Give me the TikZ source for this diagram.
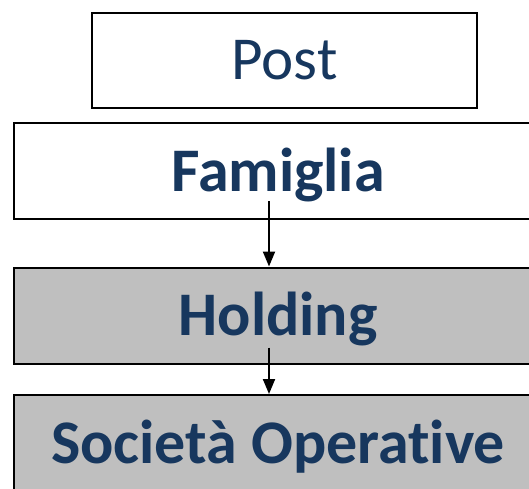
\documentclass[tikz,border=0pt]{standalone}
\usepackage{fontspec}
\setmainfont[Ligatures=NoCommon]{Carlito}
\usepackage{xcolor}
\definecolor{titleblue}{RGB}{23, 55, 94}
\definecolor{boxgray}{RGB}{191, 191, 191}
\usetikzlibrary{arrows.meta, positioning}

\begin{document}
\begin{tikzpicture}[x=1pt, y=-1pt, >={Triangle[width=12pt,length=15pt]}]
  \useasboundingbox (0,0) rectangle (529,488);
  \tikzset{
    level/.style={draw, line width=2pt, inner sep=0pt, text=titleblue,
      text height=40pt, text depth=0pt, minimum height=96pt},
    wide/.style={level, minimum width=528pt},
    flow/.style={->, line width=2pt}
  }
  % clip boxes at the right edge
  \begin{scope}
    \clip (0,0) rectangle (529,488);
    \node[level, fill=white, minimum width=385pt, minimum height=95pt,
      font=\fontsize{61}{70}\selectfont, text height=39pt] (post) at (284.5,60) {Post};
    \node[wide, fill=white, font=\fontsize{62}{72}\selectfont\bfseries] (fam) at (278,171) {Famiglia};
    \node[wide, fill=boxgray, font=\fontsize{62}{72}\selectfont\bfseries] (hold) at (278,315.5) {Holding};
    \node[wide, fill=boxgray, font=\fontsize{62}{72}\selectfont\bfseries] (ops) at (278,443) {Società Operative};
  \end{scope}
  % arrows
  \draw[flow] ([xshift=-9pt, yshift=19pt]fam.south) -- ([xshift=-9pt]hold.north);
  \draw[flow] ([xshift=-9pt, yshift=17pt]hold.south) -- ([xshift=-9pt]ops.north);
\end{tikzpicture}
\end{document}
